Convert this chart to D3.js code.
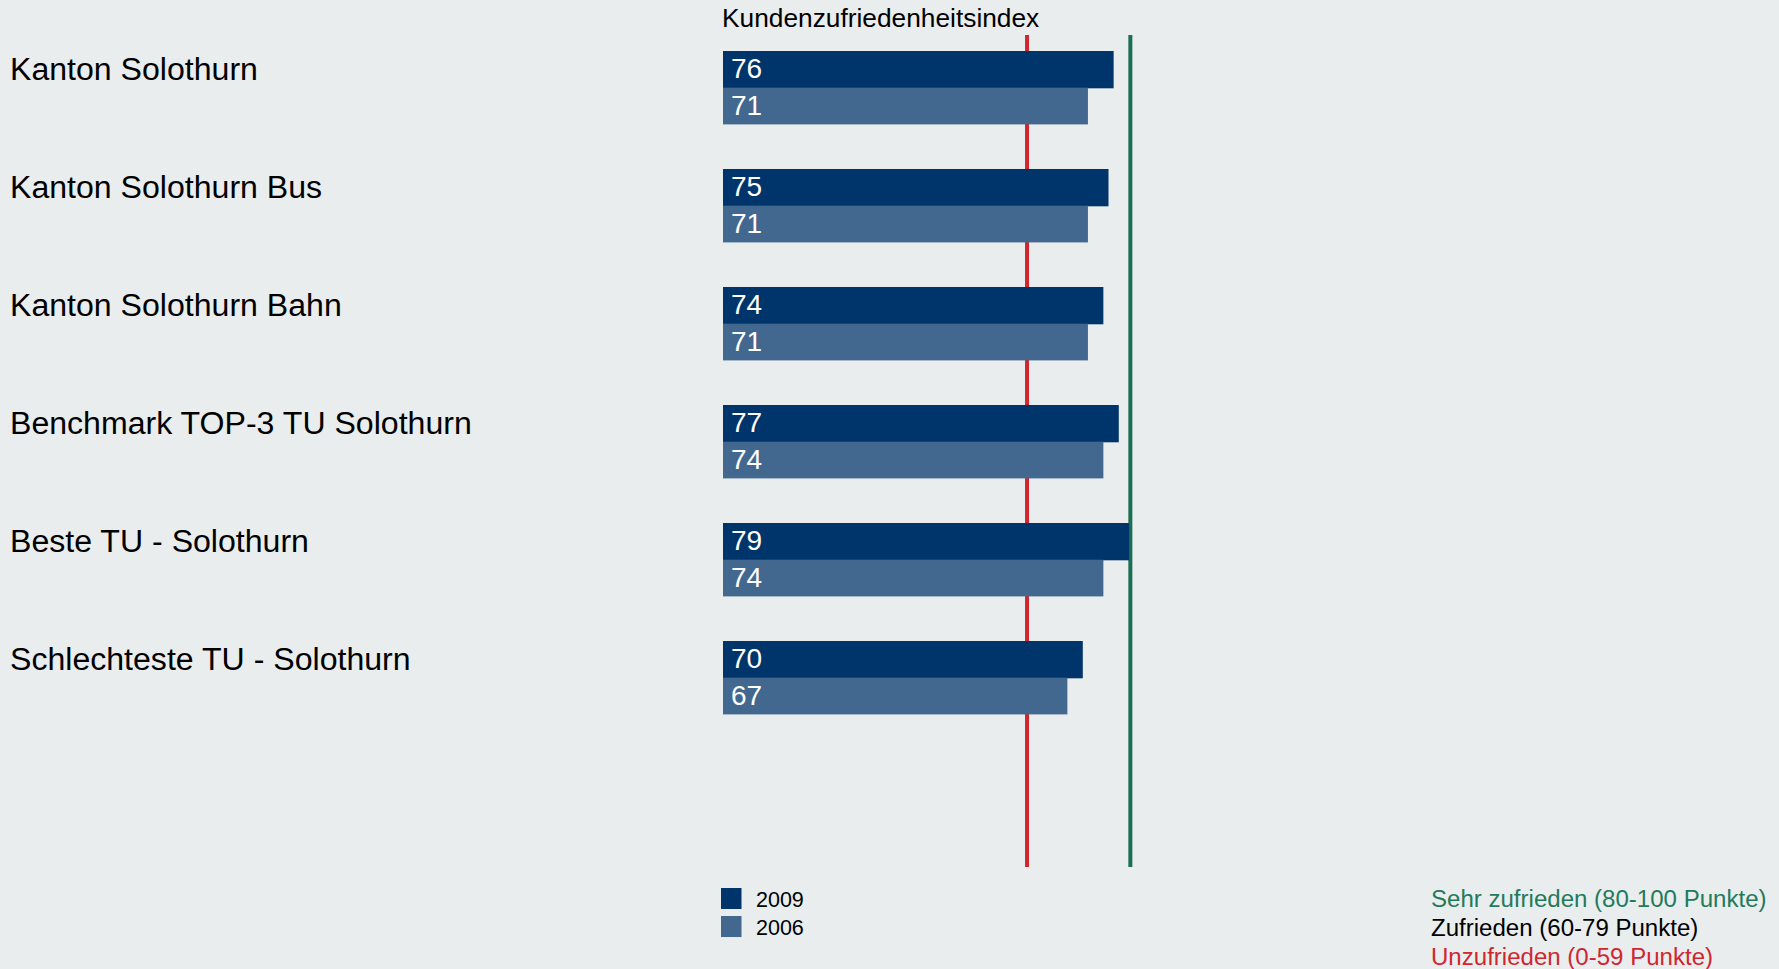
<!DOCTYPE html>
<html>
<head>
<meta charset="utf-8">
<script src="https://cdn.jsdelivr.net/npm/d3@7"></script>
<style>
  html, body { margin: 0; padding: 0; background: #e9edee; }
  svg { display: block; font-family: "Liberation Sans", Arial, sans-serif; }
</style>
</head>
<body>
<svg id="chart" width="1779" height="969"></svg>
<script>
const categories = [
  "Kanton Solothurn",
  "Kanton Solothurn Bus",
  "Kanton Solothurn Bahn",
  "Benchmark TOP-3 TU Solothurn",
  "Beste TU - Solothurn",
  "Schlechteste TU - Solothurn"
];
const seriesNames = ["2009", "2006"];
const values2009 = [76, 75, 74, 77, 79, 70];
const values2006 = [71, 71, 71, 74, 74, 67];
const seriesColors = ["#00356b", "#43688f"];
const thresholds = [59.15, 79.25];
const thresholdColors = ["#d0262e", "#1a6e52"];
const title = "Kundenzufriedenheitsindex";
const ratingLabels = ["Sehr zufrieden (80-100 Punkte)", "Zufrieden (60-79 Punkte)", "Unzufrieden (0-59 Punkte)"];
const ratingColors = ["#237a5a", "#000000", "#d0262e"];

const rows = categories.map((c, i) => ({ cat: c, vals: [values2009[i], values2006[i]] }));

const svg = d3.select("#chart");
const x = d3.scaleLinear().domain([0, 100]).range([723, 1237]);
const y = d3.scaleBand().domain(categories).range([28.7, 736.7]).paddingInner(0.378).paddingOuter(0.189);
const ySub = d3.scaleBand().domain(seriesNames).range([0, y.bandwidth()]);
const color = d3.scaleOrdinal().domain(seriesNames).range(seriesColors);

// title
svg.append("text").attr("x", 722).attr("y", 27).attr("font-size", 26.3).attr("fill", "#000").text(title);

// threshold lines (behind bars)
svg.selectAll("line.thr").data(thresholds).join("line")
  .attr("class", "thr")
  .attr("x1", d => x(d)).attr("x2", d => x(d))
  .attr("y1", 35).attr("y2", 867)
  .attr("stroke", (d, i) => thresholdColors[i]).attr("stroke-width", 4);

// category labels
svg.selectAll("text.cat").data(categories).join("text")
  .attr("class", "cat")
  .attr("x", 10)
  .attr("y", d => y(d) + ySub.bandwidth() / 2 + 10.5)
  .attr("font-size", 32.1).attr("fill", "#000")
  .text(d => d);

// bars
const g = svg.selectAll("g.row").data(rows).join("g")
  .attr("class", "row")
  .attr("transform", d => `translate(0,${y(d.cat)})`);

g.selectAll("rect").data(d => d.vals.map((v, j) => ({ s: seriesNames[j], v })))
  .join("rect")
  .attr("x", x(0))
  .attr("y", d => ySub(d.s))
  .attr("width", d => x(d.v) - x(0))
  .attr("height", d => ySub.bandwidth() + (d.s === seriesNames[0] ? 0.6 : 0))
  .attr("fill", d => color(d.s));

g.selectAll("text.val").data(d => d.vals.map((v, j) => ({ s: seriesNames[j], v })))
  .join("text")
  .attr("class", "val")
  .attr("x", x(0) + 8)
  .attr("y", d => ySub(d.s) + ySub.bandwidth() / 2 + 9)
  .attr("font-size", 28).attr("fill", "#fff")
  .text(d => d.v);

// series legend
const leg = svg.selectAll("g.leg").data(seriesNames).join("g")
  .attr("class", "leg")
  .attr("transform", (d, i) => `translate(721,${888 + i * 28})`);
leg.append("rect").attr("width", 20.5).attr("height", 21).attr("fill", d => color(d));
leg.append("text").attr("x", 35).attr("y", 18.5).attr("font-size", 21.5).attr("fill", "#000").text(d => d);

// rating legend
svg.selectAll("text.rating").data(ratingLabels).join("text")
  .attr("class", "rating")
  .attr("x", 1431)
  .attr("y", (d, i) => 907.3 + i * 28.9)
  .attr("font-size", 24.05)
  .attr("fill", (d, i) => ratingColors[i])
  .text(d => d);
</script>
</body>
</html>
